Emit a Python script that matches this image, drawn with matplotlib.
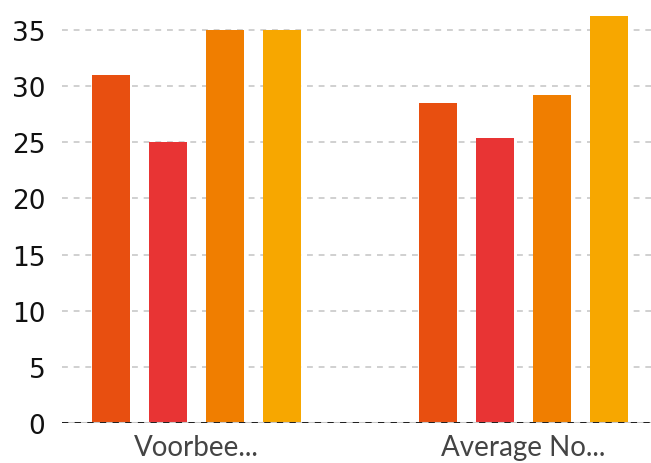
import numpy as np
import matplotlib.pyplot as plt

categories = ["Voorbee...", "Average No..."]
series_a = [31.0, 28.5]
series_b = [25.0, 25.4]
series_c = [35.0, 29.2]
series_d = [35.0, 36.2]
colors = ["#E84F10", "#E83434", "#F07E00", "#F7A700"]
yticks = [0, 5, 10, 15, 20, 25, 30, 35]

fig = plt.figure(figsize=(6.51, 4.64), dpi=100)
ax = fig.add_axes([62 / 651, 40 / 464, 589 / 651, 424 / 464])

x = np.arange(len(categories))
width = 0.116
step = 0.174
for i, vals in enumerate([series_a, series_b, series_c, series_d]):
    ax.bar(x + (i - 1.5) * step, vals, width=width, color=colors[i], zorder=3)

ax.set_xlim(-0.411, 1.39)
ax.set_ylim(0, 424 / 11.23)
ax.set_yticks(yticks)
ax.set_xticks(x)
ax.set_xticklabels(categories, family="Lato", fontsize=20, color="#444444")
ax.tick_params(axis="y", labelsize=19, length=0, pad=12, labelcolor="#111111")
ax.tick_params(axis="x", length=0, pad=8)

ax.grid(axis="y", color="#c8c8c8", linestyle=(0, (3.5, 3.5)), linewidth=1.2, zorder=0)
ax.axhline(0, color="#c8c8c8", linewidth=2.2, zorder=4)
ax.axhline(0, color="#111111", linestyle=(0, (3.5, 3.5)), linewidth=1.3, zorder=5)
for s in ax.spines.values():
    s.set_visible(False)

fig.savefig("out.png", dpi=100)
